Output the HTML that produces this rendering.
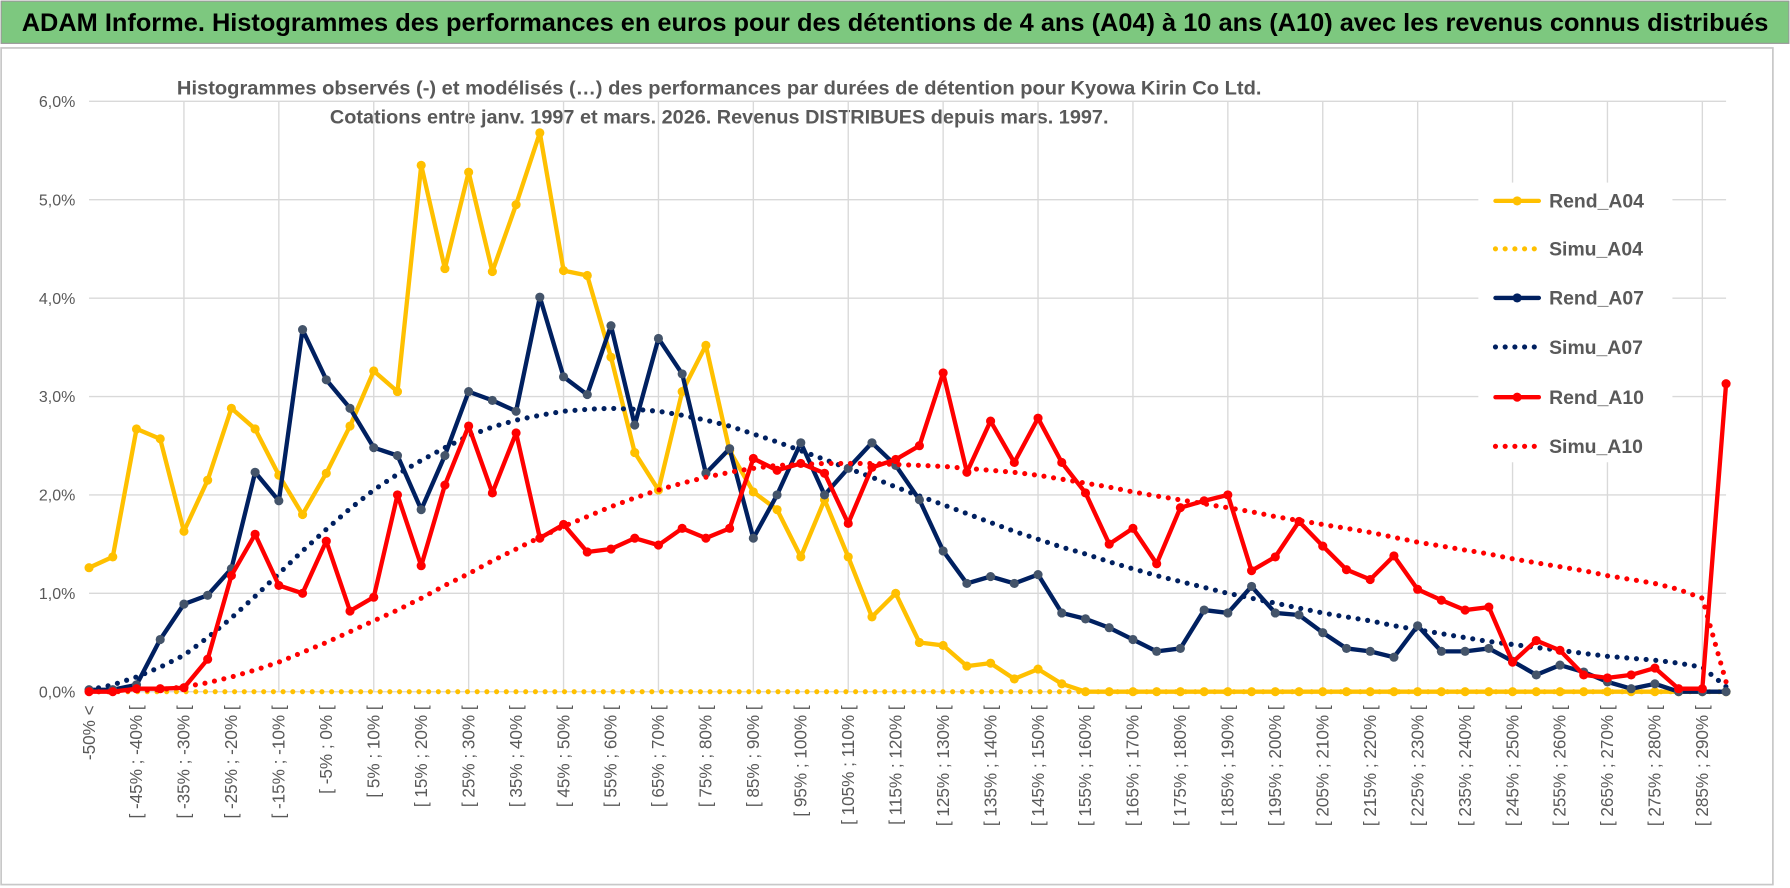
<!DOCTYPE html>
<html><head><meta charset="utf-8">
<style>
html,body{margin:0;padding:0;background:#fff;}
svg{display:block;}
text{font-family:"Liberation Sans Narrow","Liberation Sans",sans-serif;}
</style></head>
<body>
<svg id="chart" width="1790" height="888" viewBox="0 0 1568 778" preserveAspectRatio="none">
  <rect x="0" y="0" width="1568" height="778" fill="#fff"/>
  <rect x="1" y="1" width="1566" height="37" fill="#7DC87F" stroke="#999" stroke-width="1"/>
  <text x="784" y="27" text-anchor="middle" font-size="22" font-weight="bold" fill="#000" textLength="1530" lengthAdjust="spacingAndGlyphs">ADAM Informe. Histogrammes des performances en euros pour des détentions de 4 ans (A04) à 10 ans (A10) avec les revenus connus distribués</text>
  <rect x="1" y="42" width="1552" height="733" fill="none" stroke="#c8c8c8" stroke-width="1.5"/>
  <text x="630" y="83" text-anchor="middle" font-size="17" font-weight="bold" fill="#595959" textLength="950" lengthAdjust="spacingAndGlyphs">Histogrammes observés (-) et modélisés (…) des performances par durées de détention pour Kyowa Kirin Co Ltd.</text>
  <text x="630" y="108" text-anchor="middle" font-size="17" font-weight="bold" fill="#595959" textLength="682" lengthAdjust="spacingAndGlyphs">Cotations entre janv. 1997 et mars. 2026. Revenus DISTRIBUES depuis mars. 1997.</text>
  <g id="grid"></g>
  <g id="axes"></g>
  <g id="series"></g>
  <g id="legend"></g>
</svg>
<script>
const categories = (function(){ const c=["-50% <"]; for(let v=-50; v<295; v+=5){ c.push("[ "+v+"% ; "+(v+5)+"% ["); } return c; })();
const yTicks = [0,1,2,3,4,5,6];
const yTickLabels = ["0,0%","1,0%","2,0%","3,0%","4,0%","5,0%","6,0%"];
const rendA04 = [1.26,1.37,2.67,2.57,1.63,2.15,2.88,2.67,2.2,1.8,2.22,2.7,3.26,3.05,5.35,4.3,5.28,4.27,4.95,5.68,4.28,4.23,3.4,2.43,2.05,3.05,3.52,2.45,2.03,1.85,1.37,1.95,1.37,0.76,1.0,0.5,0.47,0.26,0.29,0.13,0.23,0.08,0,0,0,0,0,0,0,0,0,0,0,0,0,0,0,0,0,0,0,0,0,0,0,0,0,0,0,0];
const simuA04 = [0,0,0,0,0,0,0,0,0,0,0,0,0,0,0,0,0,0,0,0,0,0,0,0,0,0,0,0,0,0,0,0,0,0,0,0,0,0,0,0,0,0,0,0,0,0,0,0,0,0,0,0,0,0,0,0,0,0,0,0,0,0,0,0,0,0,0,0,0,0];
const rendA07 = [0.02,0.02,0.07,0.53,0.89,0.98,1.25,2.23,1.94,3.68,3.17,2.88,2.48,2.4,1.85,2.4,3.05,2.96,2.85,4.01,3.2,3.02,3.72,2.71,3.59,3.23,2.22,2.47,1.56,2.0,2.53,2.0,2.27,2.53,2.3,1.95,1.43,1.1,1.17,1.1,1.19,0.8,0.74,0.65,0.53,0.41,0.44,0.83,0.8,1.07,0.8,0.78,0.6,0.44,0.41,0.35,0.67,0.41,0.41,0.44,0.31,0.17,0.27,0.2,0.1,0.03,0.08,0,0,0];
const simuA07 = [0.02,0.07,0.15,0.25,0.37,0.55,0.75,0.97,1.2,1.43,1.65,1.86,2.05,2.21,2.35,2.48,2.6,2.69,2.76,2.81,2.85,2.87,2.88,2.87,2.85,2.81,2.76,2.7,2.62,2.54,2.45,2.36,2.27,2.18,2.08,1.99,1.9,1.81,1.72,1.63,1.55,1.47,1.4,1.32,1.25,1.18,1.12,1.06,1.0,0.95,0.9,0.85,0.8,0.76,0.72,0.67,0.63,0.59,0.55,0.51,0.48,0.45,0.42,0.39,0.36,0.34,0.32,0.29,0.25,0.05];
const rendA10 = [0,0,0.03,0.03,0.04,0.33,1.18,1.6,1.08,1.0,1.53,0.82,0.96,2.0,1.28,2.1,2.7,2.02,2.63,1.56,1.7,1.42,1.45,1.56,1.49,1.66,1.56,1.66,2.37,2.25,2.32,2.22,1.71,2.28,2.36,2.5,3.24,2.23,2.75,2.33,2.78,2.33,2.02,1.5,1.66,1.3,1.87,1.94,2.0,1.23,1.37,1.73,1.48,1.24,1.14,1.38,1.04,0.93,0.83,0.86,0.3,0.52,0.42,0.17,0.14,0.17,0.24,0.03,0.03,3.13];
const simuA10 = [0,0,0.01,0.02,0.05,0.09,0.15,0.22,0.3,0.4,0.5,0.61,0.72,0.83,0.95,1.08,1.2,1.33,1.45,1.57,1.68,1.78,1.88,1.97,2.05,2.12,2.18,2.23,2.27,2.3,2.31,2.32,2.32,2.32,2.31,2.3,2.29,2.27,2.25,2.23,2.2,2.16,2.12,2.08,2.03,1.99,1.95,1.91,1.87,1.83,1.78,1.74,1.7,1.66,1.62,1.57,1.52,1.48,1.44,1.4,1.35,1.31,1.27,1.23,1.18,1.14,1.1,1.04,0.95,0.1];

const NS="http://www.w3.org/2000/svg";
const X0=78, X1=1512, Y0=606, PER=86.2;
const n=categories.length;
function xs(i){ return X0 + i*(X1-X0)/(n-1); }
function ys(v){ return Y0 - v*PER; }
function mk(tag, attrs, parent){ const e=document.createElementNS(NS,tag); for(const k in attrs) e.setAttribute(k,attrs[k]); parent.appendChild(e); return e; }

const grid=document.getElementById('grid');
const axes=document.getElementById('axes');
yTicks.forEach((t,k)=>{
  const l=mk('line',{x1:X0,x2:X1,y1:ys(t),y2:ys(t),stroke:'#d9d9d9','stroke-width':1.2},grid);
  
  
  const tx=mk('text',{x:66,y:ys(t)+5,'text-anchor':'end','font-size':14,fill:'#595959'},axes);
  tx.textContent=yTickLabels[k];
  
  
});
for(let i=4;i<n;i+=4){
  const l=mk('line',{x1:xs(i),x2:xs(i),y1:ys(6),y2:Y0,stroke:'#d9d9d9','stroke-width':1.2},grid);
  
  
}
categories.forEach((c,i)=>{
  if(i%2) return;
  const x=xs(i)+5, y=618;
  const tx=mk('text',{x:x,y:y,'text-anchor':'end','font-size':15,fill:'#595959',transform:'rotate(-90 '+x+' '+y+')'},axes);
  tx.textContent=c;
  
  
});

const ser=document.getElementById('series');
function pts(arr){ return arr.map((v,i)=>xs(i).toFixed(1)+','+ys(v).toFixed(1)).join(' '); }
function dotted(arr,color,name){
  const p=mk('polyline',{points:pts(arr),fill:'none',stroke:color,'stroke-width':4.5,'stroke-linecap':'round','stroke-dasharray':'0 8.5'},ser);
  
  
}
function solid(arr,color,mcolor,name){
  const p=mk('polyline',{points:pts(arr),fill:'none',stroke:color,'stroke-width':3.8,'stroke-linejoin':'round'},ser);
  
  
  arr.forEach((v,i)=>{
    const c=mk('circle',{cx:xs(i),cy:ys(v),r:4,fill:mcolor},ser);
    
    
  });
}
dotted(simuA04,'#FFC000','simu-a04-line');
solid(rendA04,'#FFC000','#FFC000','rend-a04-line');
dotted(simuA07,'#002060','simu-a07-line');
solid(rendA07,'#002060','#44546A','rend-a07-line');
dotted(simuA10,'#FF0000','simu-a10-line');
solid(rendA10,'#FF0000','#FF0000','rend-a10-line');

const leg=document.getElementById('legend');
const lb=mk('rect',{x:1295,y:160,width:170,height:245,fill:'#fff'},leg);


const legItems=[["Rend_A04",'#FFC000',false],["Simu_A04",'#FFC000',true],["Rend_A07",'#002060',false],["Simu_A07",'#002060',true],["Rend_A10",'#FF0000',false],["Simu_A10",'#FF0000',true]];
const legY=[176,218,261,304,348,391];
legItems.forEach((it,k)=>{
  const y=legY[k];
  const l=mk('line',{x1:1310,x2:1348,y1:y,y2:y,stroke:it[1],'stroke-width':it[2]?4.5:3.8,'stroke-linecap':'round'},leg);
  if(it[2]) l.setAttribute('stroke-dasharray','0 8.5');
  
  
  if(!it[2]){ const c=mk('circle',{cx:1329,cy:y,r:4,fill:it[1]},leg);   }
  const t=mk('text',{x:1357,y:y+6,'font-size':17,'font-weight':'bold',fill:'#595959'},leg);
  t.textContent=it[0];
  
  
});
</script>
</body></html>
